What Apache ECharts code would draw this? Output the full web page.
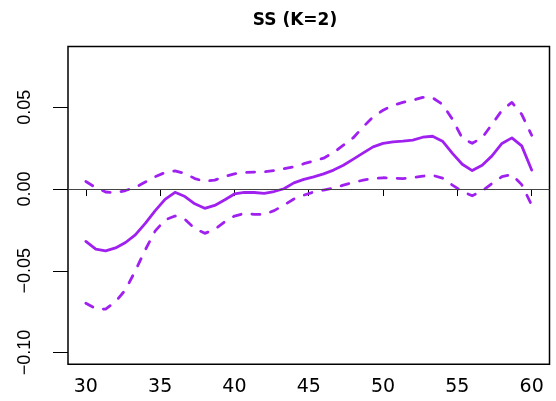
<!DOCTYPE html>
<html>
<head>
<meta charset="utf-8">
<script src="https://cdn.jsdelivr.net/npm/echarts@6/dist/echarts.min.js"></script>
<style>
html,body{margin:0;padding:0;background:#fff;}
#chart{width:556px;height:401px;}
</style>
</head>
<body>
<div id="chart"></div>
<script>
const titleText = 'SS (K=2)';
const xTicks = [30, 35, 40, 45, 50, 55, 60];
const yTicks = [-0.10, -0.05, 0.00, 0.05];
const ages = [30, 30.67, 31.33, 32, 32.67, 33.33, 34, 34.67, 35.33, 36,
  36.67, 37.33, 38, 38.67, 39.33, 40, 40.67, 41.33, 42, 42.67,
  43.33, 44, 44.67, 45.33, 46, 46.67, 47.33, 48, 48.67, 49.33,
  50, 50.67, 51.33, 52, 52.67, 53.33, 54, 54.67, 55.33, 56,
  56.67, 57.33, 58, 58.67, 59.33, 60];
const estimate = [-0.0320, -0.0368, -0.0378, -0.0360, -0.0327, -0.0280, -0.0210, -0.0132, -0.0063, -0.0020,
  -0.0046, -0.0090, -0.0118, -0.0100, -0.0067, -0.0030, -0.0021, -0.0021, -0.0026, -0.0015,
  0.0002, 0.0038, 0.0059, 0.0075, 0.0093, 0.0116, 0.0146, 0.0183, 0.0221, 0.0258,
  0.0279, 0.0289, 0.0293, 0.0299, 0.0317, 0.0323, 0.0293, 0.0218, 0.0152, 0.0113,
  0.0146, 0.0203, 0.0279, 0.0313, 0.0264, 0.0116];
const upper = [0.0046, 0.0009, -0.0018, -0.0023, -0.0009, 0.0010, 0.0043, 0.0076, 0.0101, 0.0111,
  0.0096, 0.0064, 0.0047, 0.0055, 0.0076, 0.0093, 0.0101, 0.0104, 0.0105, 0.0113,
  0.0124, 0.0136, 0.0155, 0.0171, 0.0189, 0.0223, 0.0268, 0.0314, 0.0381, 0.0442,
  0.0482, 0.0512, 0.0530, 0.0543, 0.0561, 0.0558, 0.0518, 0.0427, 0.0311, 0.0280,
  0.0314, 0.0396, 0.0482, 0.0530, 0.0457, 0.0329];
const lower = [-0.0698, -0.0732, -0.0735, -0.0689, -0.0616, -0.0500, -0.0372, -0.0256, -0.0189, -0.0165,
  -0.0186, -0.0241, -0.0271, -0.0247, -0.0201, -0.0165, -0.0149, -0.0155, -0.0155, -0.0132,
  -0.0098, -0.0061, -0.0037, -0.0018, -0.0006, 0.0006, 0.0024, 0.0040, 0.0055, 0.0065,
  0.0069, 0.0067, 0.0064, 0.0070, 0.0079, 0.0084, 0.0067, 0.0024, -0.0015, -0.0041,
  -0.0012, 0.0034, 0.0076, 0.0088, 0.0027, -0.0098];

const purple = '#A020F0';
const pair = vals => ages.map((a, i) => [a, vals[i]]);

const chart = echarts.init(document.getElementById('chart'), null, {renderer: 'canvas'});
chart.setOption({
  animation: false,
  backgroundColor: '#ffffff',
  title: {
    text: titleText,
    left: 290,
    top: 7,
    textAlign: 'center',
    textStyle: {fontFamily: 'DejaVu Sans', fontWeight: 'bold', fontSize: 17, color: '#000'}
  },
  grid: {
    left: 68, right: 6.5, top: 46.5, bottom: 36.7,
    show: true, borderColor: '#000', borderWidth: 1.5, backgroundColor: 'transparent'
  },
  xAxis: {
    type: 'value', min: 28.8, max: 61.2,
    axisLine: {show: false},
    splitLine: {show: false},
    axisTick: {show: true, customValues: xTicks, length: 7, lineStyle: {color: '#000', width: 1}},
    axisLabel: {
      customValues: xTicks, margin: 13, color: '#000',
      fontFamily: 'DejaVu Sans', fontSize: 19,
      formatter: v => String(v)
    }
  },
  yAxis: {
    type: 'value', min: -0.1072, max: 0.0872,
    axisLine: {show: false},
    splitLine: {show: false},
    axisTick: {show: true, customValues: yTicks, length: 15, lineStyle: {color: '#000', width: 1}},
    axisLabel: {
      customValues: yTicks, margin: 34, rotate: 90, color: '#000',
      fontFamily: 'Liberation Sans', fontSize: 18,
      formatter: v => (v < 0 ? '\u2212' : '') + Math.abs(v).toFixed(2)
    }
  },
  series: [
    {
      type: 'line', data: pair(estimate), showSymbol: false, symbol: 'none',
      lineStyle: {color: purple, width: 2.8, type: 'solid', cap: 'round', join: 'round'},
      markLine: {
        silent: true, symbol: ['none', 'none'], label: {show: false},
        lineStyle: {color: '#444', width: 1, type: 'solid'},
        data: [{yAxis: 0}]
      },
      z: 3
    },
    {
      type: 'line', data: pair(upper), showSymbol: false, symbol: 'none',
      lineStyle: {color: purple, width: 2.8, type: [8, 11], cap: 'round', join: 'round'},
      z: 3
    },
    {
      type: 'line', data: pair(lower), showSymbol: false, symbol: 'none',
      lineStyle: {color: purple, width: 2.8, type: [8, 11], cap: 'round', join: 'round'},
      z: 3
    }
  ]
});
</script>
</body>
</html>
